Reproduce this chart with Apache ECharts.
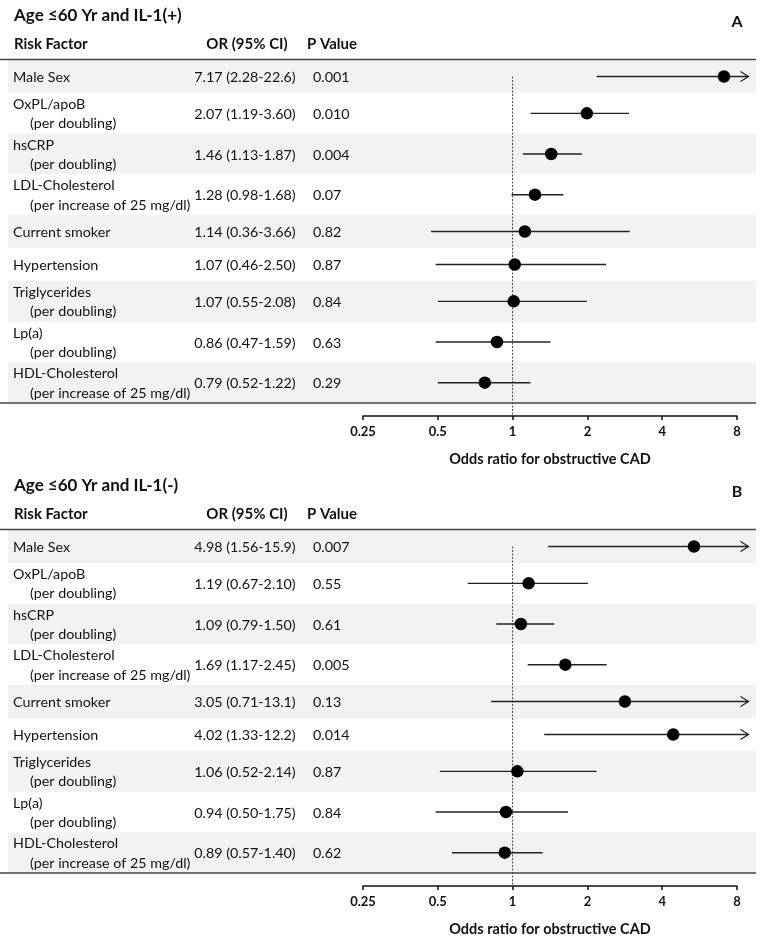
<!DOCTYPE html>
<html><head><meta charset="utf-8">
<script src="https://cdn.jsdelivr.net/npm/echarts@6/dist/echarts.min.js"></script>
<style>html,body{margin:0;padding:0;background:#fff}#c{width:764px;height:943px}</style>
</head><body><div id="c"></div>
<script>
// ---- data ----
const factors = ['Male Sex','OxPL/apoB','hsCRP','LDL-Cholesterol','Current smoker','Hypertension','Triglycerides','Lp(a)','HDL-Cholesterol'];
const subtitles = ['','(per doubling)','(per doubling)','(per increase of 25 mg/dl)','','','(per doubling)','(per doubling)','(per increase of 25 mg/dl)'];
// table text as printed
const orTextA = ['7.17 (2.28-22.6)','2.07 (1.19-3.60)','1.46 (1.13-1.87)','1.28 (0.98-1.68)','1.14 (0.36-3.66)','1.07 (0.46-2.50)','1.07 (0.55-2.08)','0.86 (0.47-1.59)','0.79 (0.52-1.22)'];
const pA  = ['0.001','0.010','0.004','0.07','0.82','0.87','0.84','0.63','0.29'];
const orTextB = ['4.98 (1.56-15.9)','1.19 (0.67-2.10)','1.09 (0.79-1.50)','1.69 (1.17-2.45)','3.05 (0.71-13.1)','4.02 (1.33-12.2)','1.06 (0.52-2.14)','0.94 (0.50-1.75)','0.89 (0.57-1.40)'];
const pB  = ['0.007','0.55','0.61','0.005','0.13','0.014','0.87','0.84','0.62'];
const orA = [7.09,1.99,1.43,1.23,1.12,1.02,1.01,0.865,0.773];
const loA = [2.18,1.18,1.10,0.99,0.47,0.49,0.50,0.49,0.50];
const hiA = [22.6,2.94,1.90,1.60,2.96,2.38,1.99,1.42,1.18];
const orB = [5.37,1.16,1.08,1.63,2.83,4.43,1.045,0.94,0.93];
const loB = [1.39,0.66,0.86,1.15,0.82,1.34,0.51,0.49,0.57];
const hiB = [15.9,2.01,1.47,2.39,13.1,12.2,2.18,1.67,1.32];
const panelTitles = ['Age \u226460 Yr and IL-1(+)','Age \u226460 Yr and IL-1(-)'];
const panelLetters = ['A','B'];
const headers = ['Risk Factor','OR (95% CI)','P Value'];
const tickValues = [0.25,0.5,1,2,4,8];
const tickLabels = ['0.25','0.5','1','2','4','8'];
const axisName = 'Odds ratio for obstructive CAD';
const refValue = 1;

// ---- layout ----
const FONT = 'Lato, "Open Sans", sans-serif';
const TXT = '#111';
const X_MIN = 0.25, X_MAX = 8, ARROW_CAP = 8.9;
const panelTop = [60, 530];
const rowH = subtitles.map(s => s ? 40.67 : 33);
const rowTop = []; let acc = 0; rowH.forEach(h => { rowTop.push(acc); acc += h; });
const total = acc;

const panels = [
  {or: orA, lo: loA, hi: hiA, txt: orTextA, p: pA},
  {or: orB, lo: loB, hi: hiB, txt: orTextB, p: pB}
];

const grids = [], xAxes = [], yAxes = [], series = [], graphics = [];

panels.forEach((P, k) => {
  const top = panelTop[k];
  grids.push({left: 363, width: 374, top: top, height: total});
  xAxes.push({
    type: 'log', logBase: 2, gridIndex: k, min: X_MIN, max: X_MAX, offset: 13, position: 'bottom',
    axisLine: {show: true, onZero: false, lineStyle: {color: '#111', width: 1.5}},
    axisTick: {show: true, length: 4, lineStyle: {color: '#111', width: 1.5}},
    axisLabel: {fontFamily: FONT, fontWeight: 'bold', fontSize: 13, color: TXT, margin: 9,
      formatter: v => {
        let bi = 0, bd = Infinity;
        tickValues.forEach((t, i) => { const d = Math.abs(Math.log2(v) - Math.log2(t)); if (d < bd) { bd = d; bi = i; } });
        return tickLabels[bi];
      }},
    splitLine: {show: false},
    name: axisName, nameLocation: 'middle', nameGap: 36,
    nameTextStyle: {fontFamily: FONT, fontWeight: 'bold', fontSize: 14.5, color: TXT}
  });
  yAxes.push({type: 'value', gridIndex: k, inverse: true, min: 0, max: total, show: false});

  // bands
  series.push({
    type: 'custom', xAxisIndex: k, yAxisIndex: k, z: 0, silent: true, clip: false,
    data: factors.map((f, i) => [i, rowTop[i], rowTop[i] + rowH[i]]).filter(d => d[0] % 2 === 0),
    encode: {x: -1, y: [1, 2]},
    renderItem: (params, api) => {
      const a = api.coord([X_MIN, api.value(1)]);
      const b = api.coord([X_MIN, api.value(2)]);
      return {type: 'rect', shape: {x: 8, y: a[1], width: 748, height: b[1] - a[1]}, style: {fill: '#f2f2f2'}};
    }
  });

  // table text
  series.push({
    type: 'custom', xAxisIndex: k, yAxisIndex: k, z: 1, silent: true, clip: false,
    data: factors.map((f, i) => [i, rowTop[i], rowTop[i] + rowH[i]]),
    encode: {x: -1, y: [1, 2]},
    renderItem: (params, api) => {
      const i = api.value(0);
      const a = api.coord([X_MIN, api.value(1)])[1];
      const b = api.coord([X_MIN, api.value(2)])[1];
      const c = (a + b) / 2;
      const st = (text, x, y, align) => ({type: 'text', style: {text, x, y, align: align || 'left', verticalAlign: 'middle', font: '14.3px ' + FONT, fill: TXT}});
      const kids = [];
      if (subtitles[i]) {
        kids.push(st(factors[i], 13, c - 9));
        kids.push(st(subtitles[i], 30, c + 10.5));
      } else {
        kids.push(st(factors[i], 13, c + 1));
      }
      kids.push(st(P.txt[i], 245, c + 1, 'center'));
      kids.push(st(P.p[i], 313, c + 1));
      return {type: 'group', children: kids};
    }
  });

  // reference dotted line
  series.push({
    type: 'custom', xAxisIndex: k, yAxisIndex: k, z: 2, silent: true, clip: false,
    data: [[refValue, rowTop[0] + rowH[0] / 2, total]],
    encode: {x: 0, y: [1, 2]},
    renderItem: (params, api) => {
      const a = api.coord([api.value(0), api.value(1)]);
      const b = api.coord([api.value(0), api.value(2)]);
      return {type: 'line', shape: {x1: a[0], y1: a[1], x2: b[0], y2: b[1] + 13},
        style: {stroke: '#444', lineWidth: 1, lineDash: [2, 1.5]}};
    }
  });

  // CI lines
  series.push({
    type: 'custom', xAxisIndex: k, yAxisIndex: k, z: 3, silent: true, clip: false,
    data: factors.map((f, i) => [P.lo[i], Math.min(P.hi[i], ARROW_CAP), rowTop[i] + rowH[i] / 2, P.hi[i] > X_MAX ? 1 : 0]),
    encode: {x: [0, 1], y: 2},
    renderItem: (params, api) => {
      const a = api.coord([api.value(0), api.value(2)]);
      const b = api.coord([api.value(1), api.value(2)]);
      const kids = [{type: 'line', shape: {x1: a[0], y1: a[1], x2: b[0], y2: b[1]}, style: {stroke: '#222', lineWidth: 1.4}}];
      if (api.value(3)) {
        kids.push({type: 'polyline', shape: {points: [[b[0] - 8, b[1] - 5], [b[0], b[1]], [b[0] - 8, b[1] + 5]]},
          style: {stroke: '#222', lineWidth: 1.2, fill: null}});
      }
      return {type: 'group', children: kids};
    }
  });

  // points
  series.push({
    type: 'scatter', xAxisIndex: k, yAxisIndex: k, z: 4, silent: true,
    symbol: 'circle', symbolSize: 12.5, itemStyle: {color: '#000', opacity: 1},
    data: factors.map((f, i) => [P.or[i], rowTop[i] + rowH[i] / 2])
  });

  // titles, headers, rules
  const off = top - 60;
  graphics.push({type: 'text', x: 14, y: off + 16, style: {text: panelTitles[k], font: 'bold 17px ' + FONT, fill: TXT, align: 'left', verticalAlign: 'middle'}});
  graphics.push({type: 'text', x: 737, y: off + 22, style: {text: panelLetters[k], font: 'bold 16px ' + FONT, fill: TXT, align: 'center', verticalAlign: 'middle'}});
  graphics.push({type: 'text', x: 14, y: off + 44, style: {text: headers[0], font: 'bold 15px ' + FONT, fill: TXT, align: 'left', verticalAlign: 'middle'}});
  graphics.push({type: 'text', x: 247, y: off + 44, style: {text: headers[1], font: 'bold 15px ' + FONT, fill: TXT, align: 'center', verticalAlign: 'middle'}});
  graphics.push({type: 'text', x: 307, y: off + 44, style: {text: headers[2], font: 'bold 15px ' + FONT, fill: TXT, align: 'left', verticalAlign: 'middle'}});
  graphics.push({type: 'line', shape: {x1: 0, y1: top - 0.5, x2: 756, y2: top - 0.5}, style: {stroke: '#444', lineWidth: 1.6}, z: 10});
  graphics.push({type: 'line', shape: {x1: 0, y1: top + total, x2: 756, y2: top + total}, style: {stroke: '#444', lineWidth: 1.6}, z: 10});
});

const chart = echarts.init(document.getElementById('c'));
chart.setOption({
  animation: false,
  backgroundColor: '#fff',
  grid: grids, xAxis: xAxes, yAxis: yAxes, series: series, graphic: graphics
});
</script>
</body></html>
